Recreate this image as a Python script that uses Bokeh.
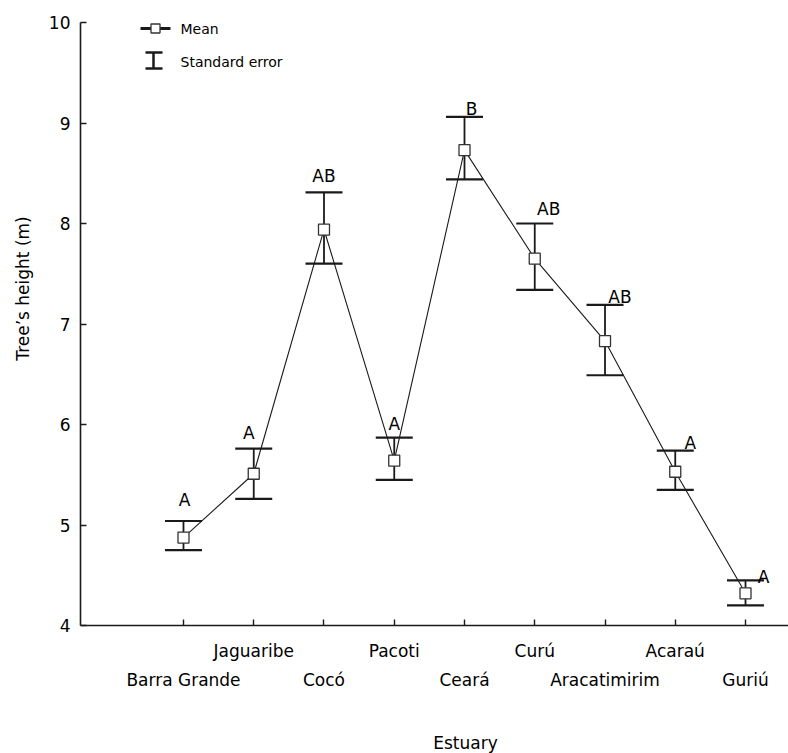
from bokeh.plotting import figure
from bokeh.models import (ColumnDataSource, Whisker, TeeHead, LinearAxis,
                          FixedTicker, Range1d, Label)
from bokeh.core.properties import value
from bokeh.embed import file_html
from bokeh.resources import INLINE

# ---------------- data ----------------
estuaries = ["Barra Grande", "Jaguaribe", "Cocó", "Pacoti", "Ceará",
             "Curú", "Aracatimirim", "Acaraú", "Guriú"]
mean_height = [4.875, 5.51, 7.94, 5.64, 8.73, 7.65, 6.83, 5.53, 4.32]
se_upper = [5.04, 5.76, 8.31, 5.87, 9.06, 8.00, 7.19, 5.74, 4.45]
se_lower = [4.75, 5.26, 7.60, 5.45, 8.44, 7.34, 6.49, 5.35, 4.20]
group_letters = ["A", "A", "AB", "A", "B", "AB", "AB", "A", "A"]
y_ticks = [4, 5, 6, 7, 8, 9, 10]
x_title = "Estuary"
y_title = "Tree’s height (m)"

# ---------------- style / layout ----------------
FONT = "DejaVu Sans"
INK = "#1a1a1a"
letter_dx = [1, -5, 0, 0, 7, 14, 15, 15, 18]       # px
letter_gap = [21, 16, 16, 14, 8, 15, 8, 8, 3]      # px above upper bar

x_pos = list(range(len(estuaries)))
X_START, X_END = -1.466, 8.612
Y_START, Y_END = 4, 10
FRAME_W, FRAME_H = 708, 603
BORDER_L, BORDER_T = 80, 22

p = figure(width=788, height=753, frame_width=FRAME_W, frame_height=FRAME_H,
           x_range=Range1d(X_START, X_END), y_range=Range1d(Y_START, Y_END),
           output_backend="svg", toolbar_location=None,
           min_border_left=BORDER_L, min_border_top=BORDER_T,
           min_border_right=0, min_border_bottom=128,
           x_axis_type=None, y_axis_type=None)
p.outline_line_color = None
p.xgrid.visible = False
p.ygrid.visible = False
p.background_fill_color = "white"

# pixel -> data helpers for decorative placements
def dx(px):
    return X_START + (px - BORDER_L) / FRAME_W * (X_END - X_START)
def dy(py):
    return Y_END - (py - BORDER_T) / FRAME_H * (Y_END - Y_START)

def text_axis(axis, size="17px"):
    axis.minor_tick_line_color = None
    axis.major_label_text_font = FONT
    axis.major_label_text_font_size = size
    axis.major_label_text_color = "black"

# ---------------- axes ----------------
yaxis = LinearAxis(ticker=FixedTicker(ticks=y_ticks))
text_axis(yaxis)
yaxis.major_tick_in = 6
yaxis.major_tick_out = 0
yaxis.axis_line_width = 1.6
yaxis.axis_line_color = INK
yaxis.major_tick_line_color = INK
yaxis.major_tick_line_width = 1.4
yaxis.major_label_standoff = 10
p.add_layout(yaxis, "left")

# y title as a single-label axis so it can sit off-centre like the reference
ytitle_pos = dy(288)
ytitle_axis = LinearAxis(ticker=FixedTicker(ticks=[ytitle_pos]))
text_axis(ytitle_axis)
ytitle_axis.major_label_overrides = {ytitle_pos: y_title}
ytitle_axis.major_label_orientation = "vertical"
ytitle_axis.axis_line_color = None
ytitle_axis.major_tick_line_color = None
ytitle_axis.major_label_standoff = 7
p.add_layout(ytitle_axis, "left")

row1 = {i: (estuaries[i] if i % 2 == 1 else "") for i in x_pos}
row2 = {i: (estuaries[i] if i % 2 == 0 else "") for i in x_pos}

xaxis = LinearAxis(ticker=FixedTicker(ticks=x_pos))
text_axis(xaxis)
xaxis.major_label_overrides = row1
xaxis.major_tick_in = 6
xaxis.major_tick_out = 0
xaxis.axis_line_width = 1.6
xaxis.axis_line_color = INK
xaxis.major_tick_line_color = INK
xaxis.major_tick_line_width = 1.4
xaxis.major_label_standoff = 15
p.add_layout(xaxis, "below")

xaxis2 = LinearAxis(ticker=FixedTicker(ticks=x_pos))
text_axis(xaxis2)
xaxis2.major_label_overrides = row2
xaxis2.axis_line_color = None
xaxis2.major_tick_line_color = None
xaxis2.major_label_standoff = 0
p.add_layout(xaxis2, "below")

xtitle_pos = dx(465)
xtitle_axis = LinearAxis(ticker=FixedTicker(ticks=[xtitle_pos]))
text_axis(xtitle_axis)
xtitle_axis.major_label_overrides = {xtitle_pos: x_title}
xtitle_axis.axis_line_color = None
xtitle_axis.major_tick_line_color = None
xtitle_axis.major_label_standoff = 34
p.add_layout(xtitle_axis, "below")

# ---------------- data marks ----------------
src = ColumnDataSource(dict(x=x_pos, mean=mean_height, upper=se_upper, lower=se_lower,
                            letter=group_letters, ldx=letter_dx,
                            ldy=[-g for g in letter_gap]))

p.line("x", "mean", source=src, line_color=INK, line_width=1.1)

whisk = Whisker(base="x", upper="upper", lower="lower", source=src,
                line_color=INK, line_width=1.8,
                upper_head=TeeHead(size=37, line_color=INK, line_width=2.2),
                lower_head=TeeHead(size=37, line_color=INK, line_width=2.2))
p.add_layout(whisk)

p.scatter("x", "mean", source=src, marker="square", size=11,
          fill_color="white", line_color="#333333", line_width=1.3)

p.text("x", "upper", text="letter", source=src, x_offset="ldx", y_offset="ldy",
       text_align="center", text_baseline="alphabetic",
       text_font=value(FONT), text_font_size="17px", text_color="black")

# ---------------- legend (drawn) ----------------
p.segment(x0=[dx(140)], y0=[dy(28)], x1=[dx(170)], y1=[dy(28)],
          line_color=INK, line_width=3)
p.scatter(x=[dx(155)], y=[dy(28)], marker="square", size=9,
          fill_color="white", line_color="#333333", line_width=1.3)
p.segment(x0=[dx(153), dx(145), dx(145)], y0=[dy(52), dy(52), dy(68)],
          x1=[dx(153), dx(162), dx(162)], y1=[dy(68), dy(52), dy(68)],
          line_color=INK, line_width=2.5)
p.add_layout(Label(x=dx(180), y=dy(28), text="Mean", text_align="left",
                   text_baseline="middle", text_font=FONT,
                   text_font_size="14px", text_color="black"))
p.add_layout(Label(x=dx(180), y=dy(61), text="Standard error", text_align="left",
                   text_baseline="middle", text_font=FONT,
                   text_font_size="14px", text_color="black"))

open("out.html", "w").write(file_html(p, INLINE))
